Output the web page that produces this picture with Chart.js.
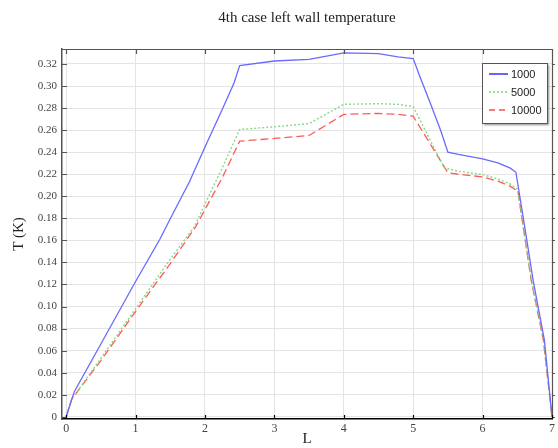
<!DOCTYPE html>
<html>
<head>
<meta charset="utf-8">
<style>
  html, body { margin: 0; padding: 0; background: #fff; }
  #wrap { width: 558px; height: 448px; }
</style>
<script src="https://cdn.jsdelivr.net/npm/chart.js@4.4.0/dist/chart.umd.min.js"></script>
</head>
<body>
<div id="wrap"><canvas id="chart" width="558" height="448"></canvas></div>
<script>
// values
const seriesNames = ['1000', '5000', '10000'];

const lBlue = [0, 0.115, 0.5, 1, 1.35, 1.5, 1.78, 2, 2.25, 2.42, 2.5, 3, 3.5, 4, 4.5, 4.78, 5, 5.1, 5.25, 5.4, 5.5, 5.65, 6, 6.22, 6.4, 6.48, 6.6, 6.73, 6.89, 7];
const tBlue = [0, 0.0225, 0.066, 0.1227, 0.161, 0.1796, 0.2136, 0.2447, 0.279, 0.303, 0.3186, 0.3227, 0.3242, 0.330, 0.3294, 0.3264, 0.325, 0.308, 0.284, 0.259, 0.240, 0.238, 0.234, 0.2303, 0.2255, 0.2218, 0.175, 0.123, 0.0697, 0];

const lGreen = [0, 0.08, 0.5, 1, 1.5, 1.85, 2, 2.25, 2.5, 3, 3.5, 4, 4.5, 4.78, 5, 5.1, 5.3, 5.45, 5.65, 6, 6.22, 6.4, 6.5, 6.7, 6.875, 7];
const tGreen = [0, 0.016, 0.053, 0.098, 0.143, 0.1727, 0.193, 0.226, 0.2606, 0.263, 0.266, 0.2834, 0.284, 0.2834, 0.2813, 0.269, 0.244, 0.2258, 0.2227, 0.2197, 0.2158, 0.211, 0.2067, 0.125, 0.07, 0];

const lRed = [0, 0.08, 0.5, 1, 1.5, 1.87, 2, 2.25, 2.5, 3, 3.5, 4, 4.5, 4.78, 5, 5.25, 5.5, 5.65, 6, 6.22, 6.4, 6.51, 6.7, 6.875, 7];
const tRed = [0, 0.016, 0.051, 0.0955, 0.139, 0.1727, 0.188, 0.217, 0.250, 0.2525, 0.2552, 0.2743, 0.2752, 0.2743, 0.2727, 0.247, 0.2213, 0.220, 0.2176, 0.2137, 0.209, 0.2045, 0.124, 0.0697, 0];

const xTicks = [0, 1, 2, 3, 4, 5, 6, 7];
const yTicks = [0, 0.02, 0.04, 0.06, 0.08, 0.1, 0.12, 0.14, 0.16, 0.18, 0.2, 0.22, 0.24, 0.26, 0.28, 0.3, 0.32];

const pts = (xs, ys) => xs.map((x, i) => ({ x: x, y: ys[i] }));

const serif = '"Liberation Serif", "Times New Roman", serif';
const sans = '"Liberation Sans", Arial, sans-serif';

// box around the plot + inward tick marks, like the original
const framePlugin = {
  id: 'frame',
  afterDraw(chart) {
    const { ctx, chartArea: a, scales } = chart;
    ctx.save();
    ctx.strokeStyle = '#555';
    ctx.lineWidth = 1.2;
    ctx.beginPath();
    ctx.moveTo(a.left, a.top + 0.5); ctx.lineTo(a.right, a.top + 0.5);
    ctx.moveTo(a.right + 0.5, a.top); ctx.lineTo(a.right + 0.5, a.bottom);
    xTicks.forEach(v => {
      const px = Math.round(scales.x.getPixelForValue(v)) + 0.5;
      ctx.moveTo(px, a.top); ctx.lineTo(px, a.top + 5);
    });
    yTicks.forEach(v => {
      const py = Math.round(scales.y.getPixelForValue(v)) + 0.5;
      ctx.moveTo(a.left, py); ctx.lineTo(a.left + 5, py);
      ctx.moveTo(a.right, py); ctx.lineTo(a.right + 3, py);
    });
    ctx.stroke();
    ctx.strokeStyle = '#000';
    ctx.beginPath();
    xTicks.forEach(v => {
      const px = Math.round(scales.x.getPixelForValue(v)) + 0.5;
      ctx.moveTo(px, a.bottom); ctx.lineTo(px, a.bottom - 4);
    });
    ctx.stroke();
    ctx.restore();
  }
};

// legend box in the upper right corner of the plot
const legendPlugin = {
  id: 'boxLegend',
  afterDraw(chart) {
    const { ctx, chartArea: a } = chart;
    const w = 65, h = 60;
    const x0 = a.right - 5 - w, y0 = a.top + 14;
    ctx.save();
    ctx.shadowColor = 'rgba(0,0,0,0.45)';
    ctx.shadowOffsetX = 2; ctx.shadowOffsetY = 2; ctx.shadowBlur = 2;
    ctx.fillStyle = '#fff';
    ctx.fillRect(x0, y0, w, h);
    ctx.shadowColor = 'transparent';
    ctx.strokeStyle = '#555';
    ctx.lineWidth = 1;
    ctx.strokeRect(x0 + 0.5, y0 + 0.5, w, h);
    const legendColors = ['#3333ff', '#77d877', '#ff4d4d'];
    const legendDash = [[], [2, 2], [6, 4]];
    ctx.font = '11px ' + sans;
    ctx.textBaseline = 'middle';
    seriesNames.forEach((name, i) => {
      const y = y0 + 11 + i * 18;
      ctx.strokeStyle = legendColors[i];
      ctx.lineWidth = 1.5;
      ctx.setLineDash(legendDash[i]);
      ctx.beginPath();
      ctx.moveTo(x0 + 7, y); ctx.lineTo(x0 + 26, y);
      ctx.stroke();
      ctx.setLineDash([]);
      ctx.fillStyle = '#222';
      ctx.fillText(name, x0 + 29, y + 1);
    });
    ctx.restore();
  }
};

new Chart(document.getElementById('chart'), {
  type: 'line',
  data: {
    datasets: [
      { label: seriesNames[0], data: pts(lBlue, tBlue), borderColor: '#6a6aff', borderWidth: 1.3, pointRadius: 0, tension: 0 },
      { label: seriesNames[1], data: pts(lGreen, tGreen), borderColor: '#86d986', borderWidth: 1.4, borderDash: [2, 2], pointRadius: 0, tension: 0 },
      { label: seriesNames[2], data: pts(lRed, tRed), borderColor: '#ff5a5a', borderWidth: 1.3, borderDash: [8, 4], pointRadius: 0, tension: 0 }
    ]
  },
  options: {
    responsive: false,
    animation: false,
    layout: { padding: { left: 0, right: 3, top: 0, bottom: 0 } },
    plugins: {
      legend: { display: false },
      tooltip: { enabled: false },
      title: {
        display: true,
        fullSize: false,
        text: '4th case left wall temperature',
        color: '#222',
        font: { family: serif, size: 15, weight: 'normal', lineHeight: 1.2 },
        padding: { top: 9, bottom: 22 }
      }
    },
    scales: {
      x: {
        type: 'linear',
        min: -0.06,
        max: 7,
        afterBuildTicks: s => { s.ticks = xTicks.map(v => ({ value: v })); },
        afterFit: s => { s.height = 29; },
        grid: { color: '#e4e4e4', lineWidth: 1, drawTicks: false },
        border: { display: true, color: '#000', width: 1.5 },
        ticks: { color: '#444', font: { family: serif, size: 12 }, padding: 3, maxRotation: 0 },
        title: { display: true, text: 'L', color: '#222', font: { family: serif, size: 15 }, padding: { top: -3, bottom: 0 } }
      },
      y: {
        type: 'linear',
        min: -0.002,
        max: 0.3336,
        afterBuildTicks: s => { s.ticks = yTicks.map(v => ({ value: v })); },
        afterFit: s => { s.width = 62; },
        grid: { color: '#e4e4e4', lineWidth: 1, drawTicks: false },
        border: { display: true, color: '#555', width: 1.5 },
        ticks: { color: '#444', font: { family: serif, size: 11 }, padding: 5 },
        title: { display: true, text: 'T (K)', color: '#222', font: { family: serif, size: 15 }, padding: { top: 10, bottom: 0 } }
      }
    }
  },
  plugins: [framePlugin, legendPlugin]
});
</script>
</body>
</html>
